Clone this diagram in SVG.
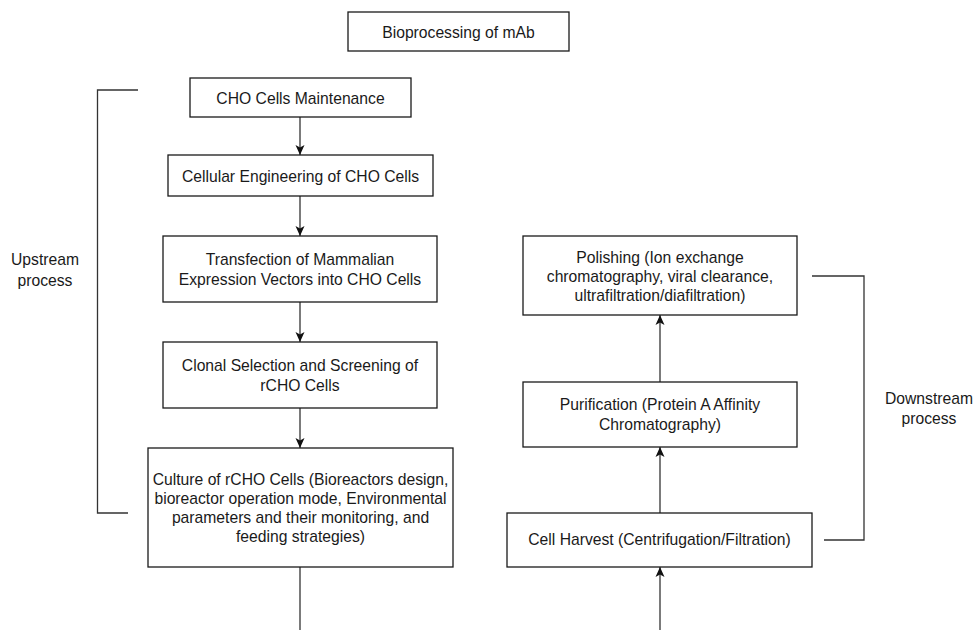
<svg xmlns="http://www.w3.org/2000/svg" width="976" height="630" viewBox="0 0 976 630">
<defs>
<style>
.box{fill:#fff;stroke:#1a1a1a;stroke-width:1.3}
.t{font-family:"Liberation Sans",Arial,sans-serif;font-size:15.7px;fill:#1a1a1a;text-anchor:middle;dominant-baseline:central}
.c{fill:none;stroke:#333;stroke-width:1.3}
</style>
<marker id="ah" viewBox="0 0 10 10" refX="10" refY="5" markerWidth="10" markerHeight="10" markerUnits="userSpaceOnUse" orient="auto">
<path d="M0,0.5 L10,5 L0,9.5 L2.5,5 Z" fill="#111"/>
</marker>
</defs>
<rect width="976" height="630" fill="#fff"/>
<g id="connectors">
<line class="c" x1="300" y1="117" x2="300" y2="155" marker-end="url(#ah)"/>
<line class="c" x1="300" y1="196" x2="300" y2="236" marker-end="url(#ah)"/>
<line class="c" x1="300" y1="302" x2="300" y2="342" marker-end="url(#ah)"/>
<line class="c" x1="300" y1="408" x2="300" y2="448" marker-end="url(#ah)"/>
<line class="c" x1="300" y1="567" x2="300" y2="630"/>
<line class="c" x1="660" y1="630" x2="660" y2="567" marker-end="url(#ah)"/>
<line class="c" x1="660" y1="513" x2="660" y2="447" marker-end="url(#ah)"/>
<line class="c" x1="660" y1="382" x2="660" y2="315" marker-end="url(#ah)"/>
<path class="c" d="M138,90 H97.5 V513 H128"/>
<path class="c" d="M812,276 H864 V540 H824"/>
</g>
<g id="title"><rect class="box" x="348" y="12" width="221" height="39"/><text class="t" x="458.5" y="32">Bioprocessing of mAb</text></g>
<g id="n1"><rect class="box" x="190" y="78" width="221" height="39"/><text class="t" x="300.5" y="98">CHO Cells Maintenance</text></g>
<g id="n2"><rect class="box" x="168" y="155" width="265" height="41"/><text class="t" x="300.5" y="176">Cellular Engineering of CHO Cells</text></g>
<g id="n3"><rect class="box" x="163" y="236" width="274" height="66"/><text class="t" x="300" y="259">Transfection of Mammalian</text><text class="t" x="300" y="279">Expression Vectors into CHO Cells</text></g>
<g id="n4"><rect class="box" x="163" y="342" width="274" height="66"/><text class="t" x="300" y="365">Clonal Selection and Screening of</text><text class="t" x="300" y="385">rCHO Cells</text></g>
<g id="n5"><rect class="box" x="148" y="448" width="305" height="119"/><text class="t" x="300.5" y="479">Culture of rCHO Cells (Bioreactors design,</text><text class="t" x="300.5" y="498">bioreactor operation mode, Environmental</text><text class="t" x="300.5" y="517">parameters and their monitoring, and</text><text class="t" x="300.5" y="536">feeding strategies)</text></g>
<g id="n6"><rect class="box" x="523" y="236" width="274" height="79"/><text class="t" x="660" y="257">Polishing (Ion exchange</text><text class="t" x="660" y="276">chromatography, viral clearance,</text><text class="t" x="660" y="295">ultrafiltration/diafiltration)</text></g>
<g id="n7"><rect class="box" x="523" y="382" width="274" height="65"/><text class="t" x="660" y="404">Purification (Protein A Affinity</text><text class="t" x="660" y="424">Chromatography)</text></g>
<g id="n8"><rect class="box" x="507" y="513" width="305" height="54"/><text class="t" x="659.5" y="539">Cell Harvest (Centrifugation/Filtration)</text></g>
<g id="upstream"><text class="t" x="45" y="259">Upstream</text><text class="t" x="45" y="280">process</text></g>
<g id="downstream"><text class="t" x="929" y="398">Downstream</text><text class="t" x="929" y="418">process</text></g>
</svg>
